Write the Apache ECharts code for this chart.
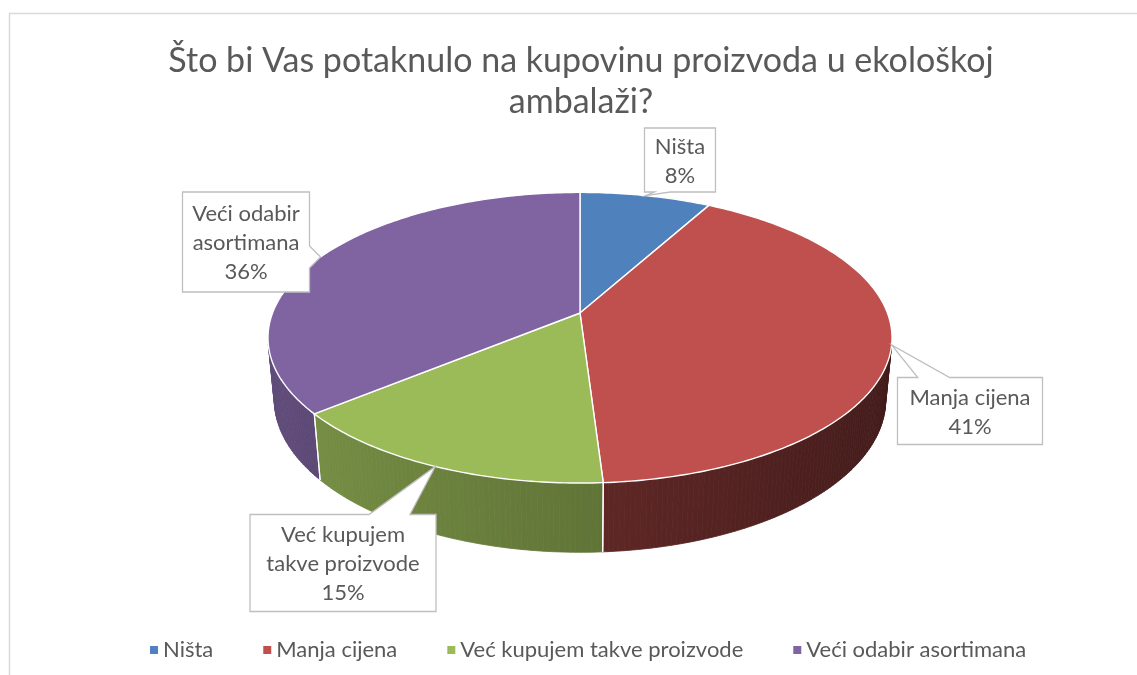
<!DOCTYPE html>
<html>
<head>
<meta charset="utf-8">
<script src="https://cdn.jsdelivr.net/npm/echarts@6/dist/echarts.min.js"></script>
<style>
  html, body { margin: 0; padding: 0; background: #fff; }
  #main { width: 1137px; height: 675px; }
</style>
</head>
<body>
<div id="main"></div>
<script>
// podaci
var categories = ['Ništa', 'Manja cijena', 'Već kupujem takve proizvode', 'Veći odabir asortimana'];
var labelNames = ['Ništa', 'Manja cijena', 'Već kupujem\ntakve proizvode', 'Veći odabir\nasortimana'];
var values = [8, 41, 15, 36];
var colors = ['#4F81BD', '#C0504D', '#9BBB59', '#8064A2'];
// brightness of the side wall for each colour
var wallBase = [0.55, 0.5, 0.63, 0.6];

// layout of the callout boxes: centre x, centre y, width, height
var calloutBoxes = [[680, 160, 71, 64], [970, 411, 145, 67], [343, 563, 186, 97], [246, 242, 127, 100]];

var FONT = 'Lato, "Open Sans", sans-serif';
var TEXT_COLOR = '#595959';

/**
 * 3D pie projection (camera above, looking down)
 */
var CX = 580, CY = 313, F = 1605, D = 5.22, SA = 0.459, CA = 0.888, H = 0.228;
function proj(t, r, y) {
    var x = r * Math.sin(t), z = r * Math.cos(t);
    var v = y * CA + z * SA, w = D + z * CA - y * SA;
    return [CX + F * x / w, CY - F * v / w];
}

var total = values.reduce(function (a, b) { return a + b; }, 0);
function startAngle(i) {
    var s = 0;
    for (var k = 0; k < i; k++) s += values[k];
    return Math.PI * 2 * s / total;
}

function shade(i, t) {
    var c = echarts.color.parse(colors[i]);
    var f = wallBase[i] - 0.16 * Math.sin(t);
    f = Math.max(0.3, Math.min(0.95, f));
    return 'rgb(' + Math.round(c[0] * f) + ',' + Math.round(c[1] * f) + ',' + Math.round(c[2] * f) + ')';
}

function frontFacing(t) {
    return 1 + D * CA * Math.cos(t) < 0;
}

// outline of a speech-bubble box with a wedge pointing at the anchor
function calloutOutline(box, anchor) {
    var bx = box[0], by = box[1], w = box[2], h = box[3];
    var l = bx - w / 2, r = bx + w / 2, tp = by - h / 2, bt = by + h / 2;
    var dx = (anchor[0] - bx) / (w / 2), dy = (anchor[1] - by) / (h / 2);
    var side;
    if (Math.abs(dx) > Math.abs(dy)) side = dx > 0 ? 'right' : 'left';
    else side = dy > 0 ? 'bottom' : 'top';
    function wedge(a, b, p) {
        var L = b - a, half = L * 0.11;
        var c = Math.max(a + L * 0.25, Math.min(b - L * 0.25, p));
        return [c - half, c + half];
    }
    var pts = [[l, tp]];
    if (side === 'top') { var e = wedge(l, r, anchor[0]); pts.push([e[0], tp], anchor, [e[1], tp]); }
    pts.push([r, tp]);
    if (side === 'right') { var e2 = wedge(tp, bt, anchor[1]); pts.push([r, e2[0]], anchor, [r, e2[1]]); }
    pts.push([r, bt]);
    if (side === 'bottom') { var e3 = wedge(l, r, anchor[0]); pts.push([e3[1], bt], anchor, [e3[0], bt]); }
    pts.push([l, bt]);
    if (side === 'left') { var e4 = wedge(tp, bt, anchor[1]); pts.push([l, e4[1]], anchor, [l, e4[0]]); }
    return pts;
}

function makeRender(i) {
    return function (params, api) {
        var v = api.value(0);
        var a0 = startAngle(i), a1 = a0 + Math.PI * 2 * v / total;
        var children = [];
        var n = Math.max(2, Math.ceil((a1 - a0) / 0.015));
        var step = (a1 - a0) / n;

        // outer wall
        for (var k = 0; k < n; k++) {
            var t0 = a0 + k * step, t1 = t0 + step, tm = (t0 + t1) / 2;
            if (!frontFacing(tm)) continue;
            var col = shade(i, tm);
            children.push({
                type: 'polygon', z2: 1, silent: true,
                shape: { points: [proj(t0, 1, 0), proj(t1, 1, 0), proj(t1, 1, -H), proj(t0, 1, -H)] },
                style: { fill: col, stroke: col, lineWidth: 0.8 }
            });
        }
        // wall edges at slice borders
        [a0, a1].forEach(function (a) {
            if (frontFacing(a)) {
                var p = proj(a, 1, 0), q = proj(a, 1, -H);
                children.push({
                    type: 'line', z2: 2, silent: true,
                    shape: { x1: p[0], y1: p[1], x2: q[0], y2: q[1] },
                    style: { stroke: '#ffffff', lineWidth: 1.2 }
                });
            }
        });

        // top face
        var pts = [proj(0, 0, 0)];
        for (var m = 0; m <= n; m++) pts.push(proj(a0 + m * step, 1, 0));
        children.push({
            type: 'polygon', z2: 5,
            shape: { points: pts },
            style: { fill: colors[i], stroke: '#ffffff', lineWidth: 1.4, lineJoin: 'round' }
        });

        // callout
        var mid = (a0 + a1) / 2;
        var anchor = proj(mid, 1, 0);
        var box = calloutBoxes[i];
        children.push({
            type: 'polygon', z2: 10, silent: true,
            shape: { points: calloutOutline(box, anchor) },
            style: { fill: '#ffffff', stroke: '#bfbfbf', lineWidth: 1.3 }
        });
        children.push({
            type: 'text', z2: 11, silent: true,
            x: box[0], y: box[1] + 1,
            style: {
                text: labelNames[i] + '\n' + Math.round(v / total * 100) + '%',
                font: '22px ' + FONT, fill: TEXT_COLOR,
                align: 'center', verticalAlign: 'middle', lineHeight: 29
            }
        });
        return { type: 'group', children: children };
    };
}

var series = categories.map(function (name, i) {
    return {
        type: 'custom',
        name: name,
        coordinateSystem: 'none',
        itemStyle: { color: colors[i] },
        renderItem: makeRender(i),
        data: [[values[i]]]
    };
});

var myChart = echarts.init(document.getElementById('main'));
myChart.setOption({
    animation: false,
    backgroundColor: '#ffffff',
    graphic: [
        {
            type: 'rect', silent: true,
            shape: { x: 9.5, y: 13.5, width: 1200, height: 700 },
            style: { fill: 'none', stroke: '#d9d9d9', lineWidth: 1.5 }
        },
        {
            type: 'text', silent: true, x: 581, y: 41,
            style: {
                text: 'Što bi Vas potaknulo na kupovinu proizvoda u ekološkoj\nambalaži?',
                font: '34px ' + FONT, fill: TEXT_COLOR,
                align: 'center', verticalAlign: 'top', lineHeight: 41
            }
        }
    ],
    legend: {
        data: categories,
        left: 145,
        top: 634,
        icon: 'rect',
        itemWidth: 8,
        itemHeight: 8,
        itemGap: 50,
        textStyle: { fontSize: 22, fontFamily: FONT, color: TEXT_COLOR }
    },
    series: series
});
</script>
</body>
</html>
